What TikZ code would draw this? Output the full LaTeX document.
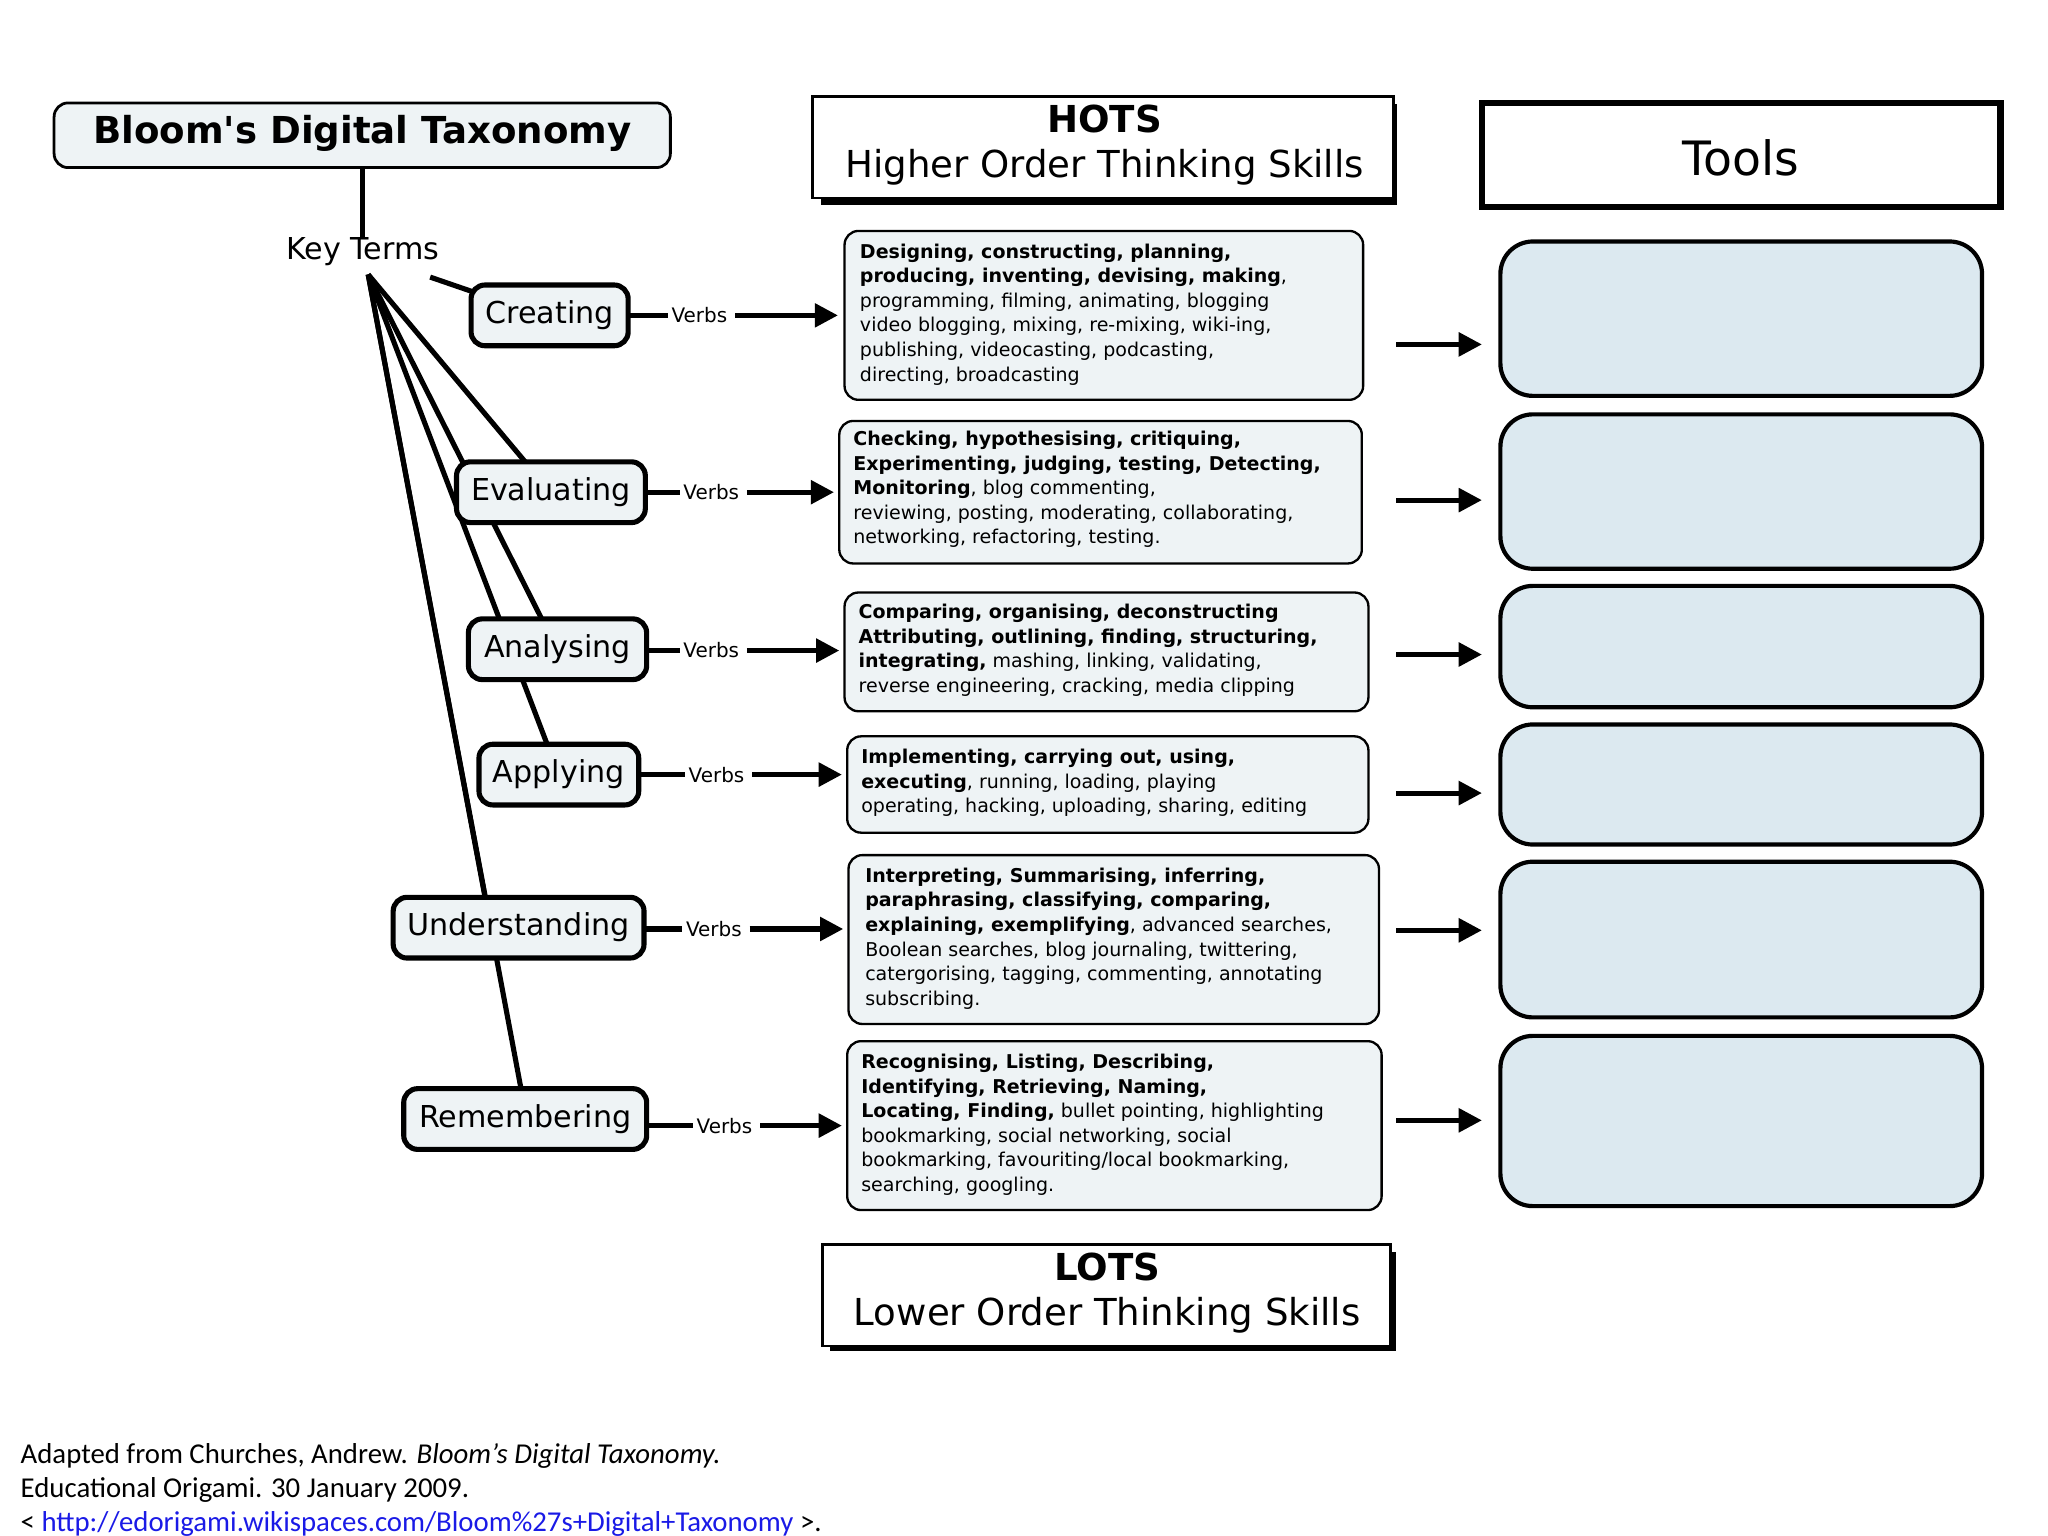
\documentclass[tikz,border=0pt]{standalone}
\usepackage{fontspec}
\setmainfont{DejaVu Sans}
\newfontfamily\foot{Carlito}
\usetikzlibrary{arrows.meta}
\definecolor{nodefill}{HTML}{EEF3F5}
\definecolor{toolfill}{HTML}{DCE9F0}
\definecolor{linkblue}{HTML}{1A1AE6}
\begin{document}
\begin{tikzpicture}[x=0.01cm,y=-0.01cm,
  term/.style={draw,line width=1.1pt,rounded corners=3pt,fill=nodefill,font=\fontsize{6.5}{7}\selectfont,inner sep=0pt,minimum height=0.46cm},
  vbox/.style={draw,line width=0.5pt,rounded corners=3pt,fill=nodefill},
  vtext/.style={anchor=north west,align=left,inner sep=0pt,font=\fontsize{4.1}{5.3}\selectfont},
  tool/.style={draw,line width=0.9pt,rounded corners=7pt,fill=toolfill},
  arr/.style={-{Triangle[length=5pt,width=5pt]},line width=1.1pt},
  spoke/.style={line width=1.1pt},
  vlab/.style={font=\fontsize{4.3}{5}\selectfont,inner sep=1pt}]
\useasboundingbox (0,0) rectangle (1552,1164);
% title
\draw[line width=0.6pt,rounded corners=3pt,fill=nodefill] (41,78) rectangle (508,127);
\node[font=\bfseries\fontsize{8}{9}\selectfont] (title) at (274.5,101) {Bloom\textquotesingle s Digital Taxonomy};
\node[font=\fontsize{6.5}{7}\selectfont,inner sep=0pt] (kt) at (275,191) {Key Terms};
\coordinate (hub) at (279,208);
\draw[spoke] (275,127) -- (kt.north);
% spokes
\draw[spoke] (326,210) -- (358,221);
\draw[spoke] (hub) -- (398,350);
\draw[spoke] (hub) -- (411,470);
\draw[spoke] (hub) -- (415,565);
\draw[spoke] (hub) -- (368,681);
\draw[spoke] (hub) -- (395,826);
% term nodes
\node[term,minimum width=1.19cm] (cr) at (416.5,239) {Creating};
\node[term,minimum width=1.43cm] (ev) at (417.5,373) {Evaluating};
\node[term,minimum width=1.35cm] (an) at (422.5,492) {Analysing};
\node[term,minimum width=1.21cm] (ap) at (423.5,587) {Applying};
\node[term,minimum width=1.90cm] (un) at (393,703) {Understanding};
\node[term,minimum width=1.84cm] (re) at (398,848) {Remembering};
% verbs connectors
\foreach \xa/\xv/\xs/\xe/\y in {477/530/557/635/239, 490/539/566/632/373, 491/539/566/636/493, 485/543/570/638/587, 489/541/568/639/704, 491/549/576/638/853}{
  \draw[line width=1.1pt] (\xa,\y) -- (\xv-24,\y);
  \node[vlab] at (\xv,\y) {Verbs};
  \draw[arr] (\xs,\y) -- (\xe,\y);
}
% verb boxes
\draw[vbox] (640,175) rectangle (1033,303);
\node[vtext] at (651,184) {\textbf{Designing, constructing, planning,}\\\textbf{producing, inventing, devising, making},\\programming, filming, animating, blogging\\video blogging, mixing, re-mixing, wiki-ing,\\publishing, videocasting, podcasting,\\directing, broadcasting};
\draw[vbox] (636,319) rectangle (1032,427);
\node[vtext] at (646,326) {\textbf{Checking, hypothesising, critiquing,}\\\textbf{Experimenting, judging, testing, Detecting,}\\\textbf{Monitoring}, blog commenting,\\reviewing, posting, moderating, collaborating,\\networking, refactoring, testing.};
\draw[vbox] (640,449) rectangle (1037,539);
\node[vtext] at (650,457) {\textbf{Comparing, organising, deconstructing}\\\textbf{Attributing, outlining, finding, structuring,}\\\textbf{integrating,} mashing, linking, validating,\\reverse engineering, cracking, media clipping};
\draw[vbox] (642,558) rectangle (1037,631);
\node[vtext] at (652,567) {\textbf{Implementing, carrying out, using,}\\\textbf{executing}, running, loading, playing\\operating, hacking, uploading, sharing, editing};
\draw[vbox] (643,648) rectangle (1045,776);
\node[vtext] at (655,657) {\textbf{Interpreting, Summarising, inferring,}\\\textbf{paraphrasing, classifying, comparing,}\\\textbf{explaining, exemplifying}, advanced searches,\\Boolean searches, blog journaling, twittering,\\catergorising, tagging, commenting, annotating\\subscribing.};
\draw[vbox] (642,789) rectangle (1047,917);
\node[vtext] at (652,798) {\textbf{Recognising, Listing, Describing,}\\\textbf{Identifying, Retrieving, Naming,}\\\textbf{Locating, Finding,} bullet pointing, highlighting\\bookmarking, social networking, social\\bookmarking, favouriting/local bookmarking,\\searching, googling.};
% HOTS / LOTS
\fill (622,79) rectangle (1059,155);
\draw[line width=0.6pt,fill=white] (616,73) rectangle (1056,150);
\node[font=\bfseries\fontsize{8}{9}\selectfont] (hots) at (837,90) {HOTS};
\node[font=\fontsize{8}{9}\selectfont] (hotsl) at (837,127) {Higher Order Thinking Skills};
\fill (629,949) rectangle (1058,1024);
\draw[line width=0.6pt,fill=white] (623,943) rectangle (1054,1020);
\node[font=\bfseries\fontsize{8}{9}\selectfont] (lots) at (839,960) {LOTS};
\node[font=\fontsize{8}{9}\selectfont] (lotsl) at (839,997) {Lower Order Thinking Skills};
% Tools
\draw[line width=1.4pt] (1123,78) rectangle (1516,157);
\node[font=\fontsize{10.2}{12}\selectfont] (tools) at (1319,120) {Tools};
\foreach \ya/\yb in {183/300, 314/431, 444/536, 549/640, 653/771, 785/914}{
  \draw[tool] (1137,\ya) rectangle (1502,\yb);
}
\foreach \y in {261,379,496,601,705,849}{
  \draw[arr] (1058,\y) -- (1123,\y);
}
% footer
\node[anchor=west,inner sep=0pt,font=\foot\fontsize{6.2}{7}\selectfont] (f1) at (15,1103) {Adapted from Churches, Andrew. \textit{Bloom’s Digital Taxonomy.}};
\node[anchor=west,inner sep=0pt,font=\foot\fontsize{6.2}{7}\selectfont] (f2) at (15,1129) {Educational Origami. 30 January 2009.};
\node[anchor=west,inner sep=0pt,font=\foot\fontsize{6.2}{7}\selectfont] (f3) at (15,1155) {< \textcolor{linkblue}{http://edorigami.wikispaces.com/Bloom\%27s+Digital+Taxonomy} >.};
\end{tikzpicture}
\end{document}
